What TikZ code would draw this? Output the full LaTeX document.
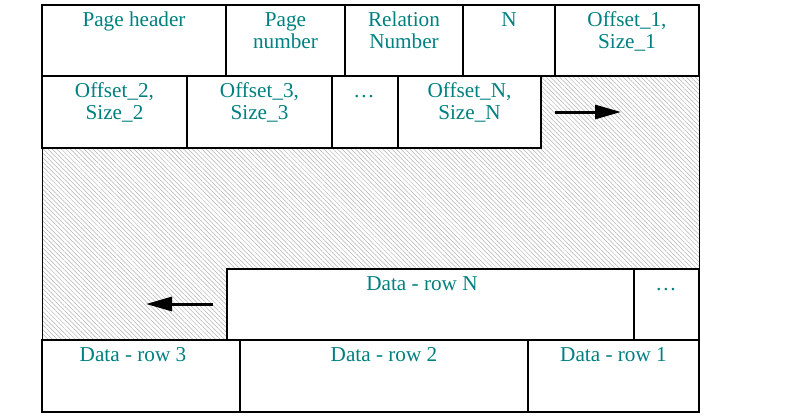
\documentclass[tikz,border=0pt]{standalone}
\usepackage{fontspec}
\setmainfont{Liberation Serif}
\usepackage{xcolor}
\usetikzlibrary{arrows.meta}
\usetikzlibrary{patterns.meta}
\definecolor{cellteal}{RGB}{0,128,128}
\tikzset{
  cellbox/.style={draw=black,line width=1pt,fill=white},
  celltext/.style={text=cellteal,anchor=north,inner sep=0pt,align=center,
    font=\fontsize{10.6}{11}\selectfont},
  growarrow/.style={line width=1.5pt,-{Triangle[length=13pt,width=7pt]}}
}

\begin{document}
\begin{tikzpicture}[x=0.5pt,y=-0.5pt]
\useasboundingbox (0,0) rectangle (800,418);
% free space of the page
\fill[pattern={Lines[angle=-45,distance=1.6pt,line width=0.25pt]},pattern color=gray!60] (42,76) rectangle (699,340);
\draw[line width=0.5pt] (42,5) rectangle (699,412);
% header row
\draw[cellbox] (42,5) rectangle (226,76);
\draw[cellbox] (226,5) rectangle (345,76);
\draw[cellbox] (345,5) rectangle (463,76);
\draw[cellbox] (463,5) rectangle (555,76);
\draw[cellbox] (555,5) rectangle (699,76);
\node[celltext] (pghdr) at (134,10.6) {\strut Page header};
\node[celltext] (pgnum) at (285.5,10.6) {\strut Page\\\strut number};
\node[celltext] (relnum) at (404,10.6) {\strut Relation\\\strut Number};
\node[celltext] (nslots) at (509,10.6) {\strut N};
\node[celltext] (off1) at (627,10.6) {\strut Offset\_1,\\\strut Size\_1};
% slot row
\draw[cellbox] (42,76) rectangle (187,148);
\draw[cellbox] (187,76) rectangle (332,148);
\draw[cellbox] (332,76) rectangle (398,148);
\draw[cellbox] (398,76) rectangle (541,148);
\node[celltext] (off2) at (114.5,81.6) {\strut Offset\_2,\\\strut Size\_2};
\node[celltext] (off3) at (259.5,81.6) {\strut Offset\_3,\\\strut Size\_3};
\node[celltext] (offdots) at (364,81.6) {\strut …};
\node[celltext] (offN) at (469.5,81.6) {\strut Offset\_N,\\\strut Size\_N};
% data rows
\draw[cellbox] (227,269) rectangle (634,340);
\draw[cellbox] (634,269) rectangle (699,340);
\draw[cellbox] (42,340) rectangle (240,412);
\draw[cellbox] (240,340) rectangle (528,412);
\draw[cellbox] (528,340) rectangle (699,412);
\node[celltext] (rowN) at (422,274.6) {\strut Data - row N};
\node[celltext] (rowdots) at (666,274.6) {\strut …};
\node[celltext] (row3) at (133,345.6) {\strut Data - row 3};
\node[celltext] (row2) at (384,345.6) {\strut Data - row 2};
\node[celltext] (row1) at (613.5,345.6) {\strut Data - row 1};
% growth directions
\coordinate (slotgrow0) at (555,112);
\coordinate (slotgrow1) at (621,112);
\coordinate (datagrow0) at (213,304);
\coordinate (datagrow1) at (146,304);
\draw[growarrow] (slotgrow0) -- (slotgrow1);
\draw[growarrow] (datagrow0) -- (datagrow1);
\end{tikzpicture}
\end{document}
